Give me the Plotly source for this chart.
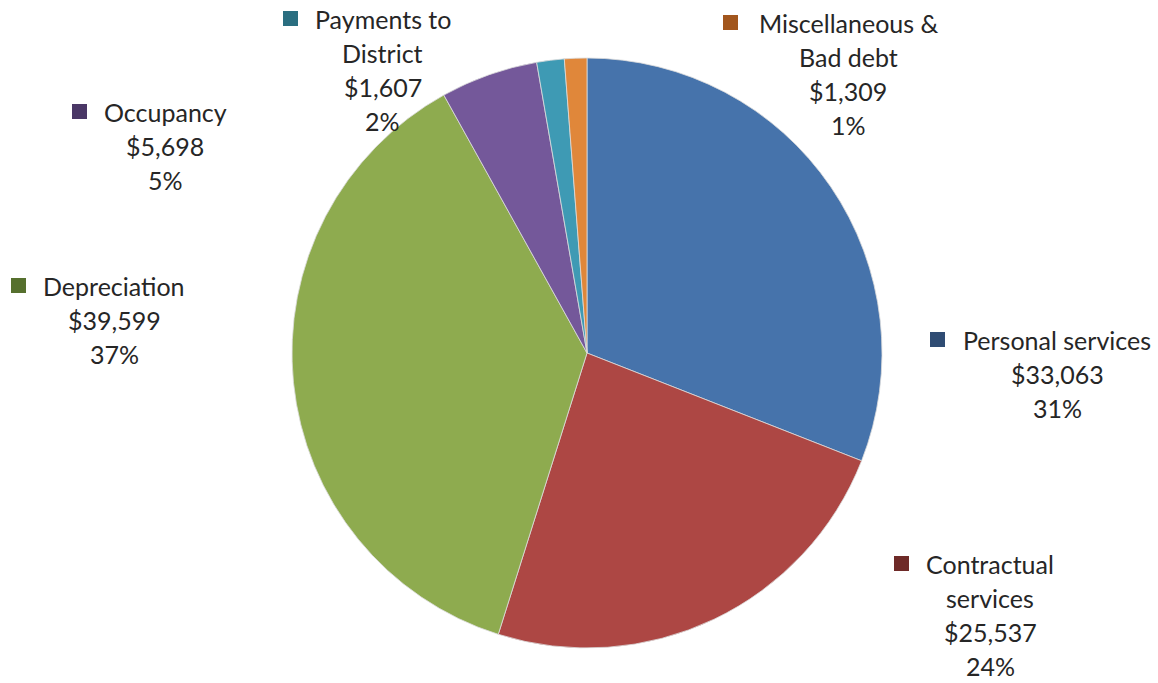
import plotly.graph_objects as go

categories = ["Personal services", "Contractual services", "Depreciation",
              "Occupancy", "Payments to District", "Miscellaneous & Bad debt"]
label_lines = [["Personal services"], ["Contractual", "services"], ["Depreciation"],
               ["Occupancy"], ["Payments to", "District"], ["Miscellaneous &", "Bad debt"]]
values = [33063, 25537, 39599, 5698, 1607, 1309]

slice_colors = ["#4673AB", "#AD4744", "#8EAB4F", "#74589A", "#3E9AB4", "#E0873A"]
key_colors = ["#2F4C73", "#6E2A28", "#56702E", "#4A3766", "#2A6E80", "#A2561D"]

W, H = 1158, 683
# label layout: (center x of text, y of first line center, marker left x) in pixels
label_pos = [(1057, 340, 930), (990, 564, 894), (114, 286, 11),
             (165, 112, 72), (383, 19, 283), (848, 23, 723)]
LINE_H = 34
FONT = "Lato, 'Open Sans', sans-serif"

total = sum(values)

fig = go.Figure(go.Pie(
    labels=categories, values=values, sort=False, direction="clockwise",
    rotation=0, textinfo="none", hoverinfo="label+value+percent",
    marker=dict(colors=slice_colors, line=dict(color="rgba(220,220,220,0.8)", width=1)),
    domain=dict(x=[292 / W, 882 / W], y=[1 - 648 / H, 1 - 58 / H]),
    showlegend=False,
))

annotations = []
shapes = []
for lines, v, (cx, y0, mx), kc in zip(label_lines, values, label_pos, key_colors):
    pct = round(v / total * 100)
    all_lines = lines + [f"${v:,}", f"{pct}%"]
    for i, t in enumerate(all_lines):
        y = y0 + i * LINE_H
        annotations.append(dict(
            x=cx / W, y=1 - y / H, xref="paper", yref="paper",
            text=t, showarrow=False, xanchor="center", yanchor="middle",
            borderpad=0,
            font=dict(family=FONT, size=25, color="#262626"),
        ))
    shapes.append(dict(
        type="rect", xref="paper", yref="paper",
        x0=mx / W, x1=(mx + 15) / W, y0=1 - (y0 - 8) / H, y1=1 - (y0 + 7) / H,
        fillcolor=kc, line=dict(width=0),
    ))

fig.update_layout(
    width=W, height=H, margin=dict(l=0, r=0, t=0, b=0),
    paper_bgcolor="white", plot_bgcolor="white",
    annotations=annotations, shapes=shapes,
)

fig.write_html("out.html")
